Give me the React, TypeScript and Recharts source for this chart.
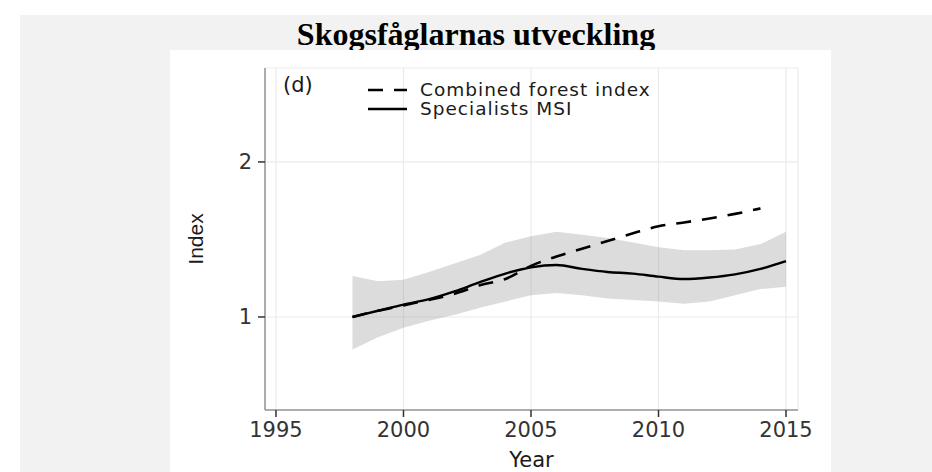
import React from "react";
import {
  ComposedChart,
  Area,
  Line,
  XAxis,
  YAxis,
  CartesianGrid,
  Legend,
} from "recharts";

// values
const years = [
  1998, 1999, 2000, 2001, 2002, 2003, 2004, 2005, 2006, 2007, 2008, 2009,
  2010, 2011, 2012, 2013, 2014, 2015,
];
const specialistsMsi = [
  1.0, 1.04, 1.08, 1.115, 1.165, 1.225, 1.28, 1.32, 1.335, 1.31, 1.29, 1.28,
  1.26, 1.245, 1.255, 1.275, 1.31, 1.36,
];
const msiLower = [
  0.79, 0.87, 0.93, 0.975, 1.015, 1.06, 1.1, 1.14, 1.155, 1.14, 1.12, 1.11,
  1.1, 1.085, 1.1, 1.14, 1.18, 1.195,
];
const msiUpper = [
  1.265, 1.23, 1.24, 1.29, 1.345, 1.4, 1.48, 1.52, 1.55, 1.53, 1.51, 1.48,
  1.45, 1.43, 1.43, 1.435, 1.47, 1.55,
];
const combinedIndex = [
  1.0, 1.04, 1.075, 1.11, 1.15, 1.205, 1.245, 1.33, 1.39, 1.44, 1.49, 1.54,
  1.585, 1.61, 1.635, 1.665, 1.7, null,
];
const xTicks = [1995, 2000, 2005, 2010, 2015];
const yTicks = [1, 2];

const data = years.map((year, i) => ({
  year,
  msi: specialistsMsi[i],
  band: [msiLower[i], msiUpper[i]],
  combined: combinedIndex[i],
}));

const xDomain = [1994.57, 2015.47];
const yDomain = [0.4, 2.606];
const borderLine = { stroke: "#949494", strokeWidth: 1.5 };
const tickStyle = { fill: "#333", fontSize: 21, fontFamily: "DejaVu Sans" };

const LegendBox = ({ payload }: any) => (
  <div
    style={{
      fontFamily: "DejaVu Sans",
      fontSize: 18.5,
      letterSpacing: 1,
      lineHeight: "19px",
      color: "#1a1a1a",
    }}
  >
    {(payload || [])
      .filter((entry: any) => entry.dataKey !== "band" && entry.type !== "none")
      .map((entry: any) => (
        <div
          key={entry.value}
          style={{
            display: "flex",
            alignItems: "center",
            height: 19,
            whiteSpace: "nowrap",
          }}
        >
          <svg width={39} height={6} style={{ marginRight: 13 }}>
            <line
              x1={0}
              y1={3}
              x2={39}
              y2={3}
              stroke="#000"
              strokeWidth={2.6}
              strokeDasharray={entry.payload?.strokeDasharray}
            />
          </svg>
          <span>{entry.value}</span>
        </div>
      ))}
  </div>
);

export default function App() {
  return (
    <div
      style={{
        position: "absolute",
        top: 0,
        left: 0,
        width: 932,
        height: 472,
        background: "#fff",
        overflow: "hidden",
      }}
    >
      <div
        style={{
          position: "absolute",
          left: 20,
          top: 15,
          width: 912,
          height: 457,
          background: "#f2f2f2",
        }}
      />
      <div
        style={{
          position: "absolute",
          left: 20,
          top: 18,
          width: 912,
          textAlign: "center",
          fontFamily: "Liberation Serif",
          fontWeight: "bold",
          fontSize: 32,
          lineHeight: "32px",
          color: "#000",
        }}
      >
        Skogsfåglarnas utveckling
      </div>
      <div
        style={{
          position: "absolute",
          left: 170,
          top: 50,
          width: 661,
          height: 422,
          background: "#fff",
        }}
      >
        <ComposedChart
          width={661}
          height={422}
          data={data}
          margin={{ top: 18, right: 33, bottom: 0, left: 0 }}
        >
          <CartesianGrid stroke="#ebebeb" strokeWidth={1.2} />
          <XAxis
            dataKey="year"
            type="number"
            domain={xDomain}
            allowDataOverflow
            ticks={xTicks}
            interval={0}
            height={62}
            tickSize={7}
            tickMargin={5}
            axisLine={borderLine}
            tickLine={{ stroke: "#333", strokeWidth: 1.5 }}
            tick={tickStyle}
            label={{
              value: "Year",
              position: "insideBottom",
              offset: 5,
              fill: "#1a1a1a",
              fontSize: 21,
              fontFamily: "DejaVu Sans",
            }}
          />
          <XAxis
            xAxisId="top"
            orientation="top"
            type="number"
            domain={xDomain}
            allowDataOverflow
            height={0}
            tick={false}
            tickLine={false}
            axisLine={borderLine}
          />
          <YAxis
            type="number"
            domain={yDomain}
            allowDataOverflow
            ticks={yTicks}
            interval={0}
            width={95}
            tickSize={7}
            tickMargin={6}
            axisLine={borderLine}
            tickLine={{ stroke: "#333", strokeWidth: 1.5 }}
            tick={tickStyle}
            label={{
              value: "Index",
              angle: -90,
              position: "insideLeft",
              offset: 26,
              fill: "#1a1a1a",
              fontSize: 21,
              fontFamily: "Liberation Sans",
              style: { textAnchor: "middle" },
            }}
          />
          <YAxis
            yAxisId="right"
            orientation="right"
            type="number"
            domain={yDomain}
            allowDataOverflow
            width={0}
            tick={false}
            tickLine={false}
            axisLine={borderLine}
          />
          <Legend
            layout="horizontal"
            verticalAlign="middle"
            align="center"
            wrapperStyle={{ top: 30, left: 198, width: "auto" }}
            content={LegendBox}
          />
          <Area
            dataKey="band"
            type="linear"
            stroke="none"
            fill="#7f7f7f"
            fillOpacity={0.27}
            legendType="none"
            isAnimationActive={false}
          />
          <Line
            dataKey="combined"
            name="Combined forest index"
            type="monotone"
            stroke="#000"
            strokeWidth={2.6}
            strokeDasharray="15 11"
            dot={false}
            isAnimationActive={false}
          />
          <Line
            dataKey="msi"
            name="Specialists MSI"
            type="monotone"
            stroke="#000"
            strokeWidth={2.4}
            dot={false}
            isAnimationActive={false}
          />
        </ComposedChart>
        <div
          style={{
            position: "absolute",
            left: 113,
            top: 25,
            fontFamily: "DejaVu Sans",
            fontSize: 21,
            lineHeight: "21px",
            color: "#1a1a1a",
          }}
        >
          (d)
        </div>
      </div>
    </div>
  );
}
